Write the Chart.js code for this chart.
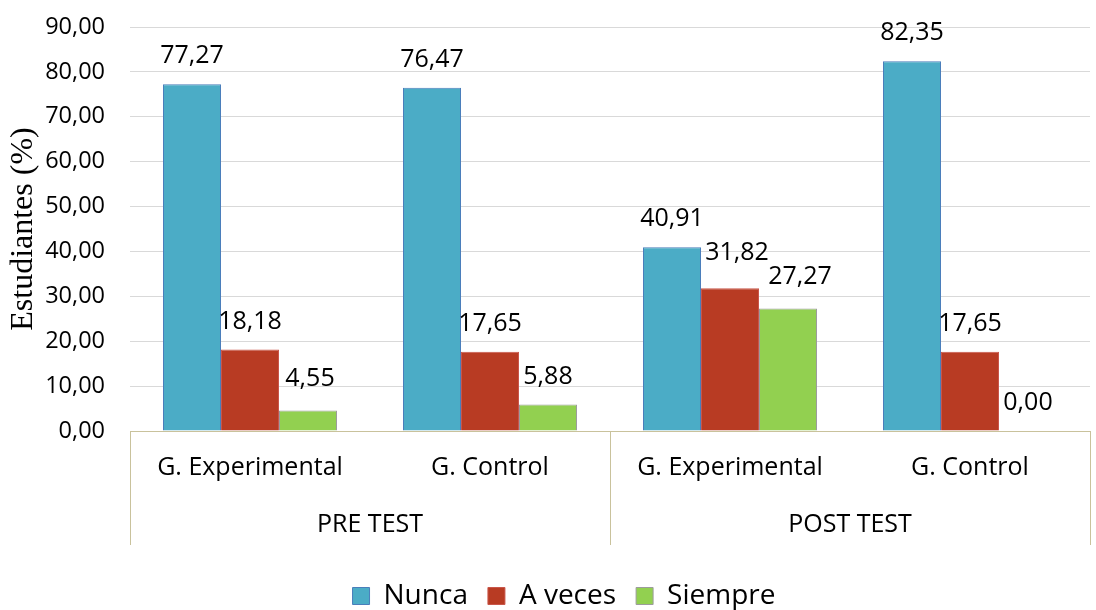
<!DOCTYPE html>
<html>
<head>
<meta charset="utf-8">
<script src="https://cdn.jsdelivr.net/npm/chart.js@4/dist/chart.umd.min.js"></script>
<style>
html,body{margin:0;padding:0;background:#fff;}
#wrap{width:1096px;height:610px;}
</style>
</head>
<body>
<div id="wrap"><canvas id="c" width="1096" height="610"></canvas></div>
<script>
const categories = ['G. Experimental', 'G. Control', 'G. Experimental', 'G. Control'];
const groups = ['PRE TEST', 'POST TEST'];
const nunca = [77.27, 76.47, 40.91, 82.35];
const aVeces = [18.18, 17.65, 31.82, 17.65];
const siempre = [4.55, 5.88, 27.27, 0.00];
const yTicks = [0, 10, 20, 30, 40, 50, 60, 70, 80, 90];

const FONT = '"Open Sans", "Noto Sans", sans-serif';
const TAN = '#C9C29C';
const fmt = v => Number(v).toFixed(2).replace('.', ',');

const labelPlugin = {
  id: 'valueLabels',
  afterDatasetsDraw(chart) {
    const ctx = chart.ctx;
    // small nudges to avoid overlapping labels (dataset:index -> [dx, dy])
    const nudge = { '1:2': [7, -7], '2:2': [12, -4], '2:0': [2, -4] };
    ctx.save();
    ctx.font = '25px ' + FONT;
    ctx.fillStyle = '#000';
    ctx.textAlign = 'center';
    ctx.textBaseline = 'middle';
    chart.data.datasets.forEach((ds, di) => {
      const meta = chart.getDatasetMeta(di);
      meta.data.forEach((el, i) => {
        const n = nudge[di + ':' + i] || [0, 0];
        ctx.fillText(fmt(ds.data[i]), el.x + n[0], el.y - 28 + n[1]);
      });
    });
    ctx.restore();
  }
};

const separatorPlugin = {
  id: 'separators',
  afterDraw(chart) {
    const x = chart.scales.x;
    const ctx = chart.ctx;
    const top = chart.chartArea.bottom;
    const bottom = 545;
    const xs = [x.getPixelForValue(-0.5), x.getPixelForValue(1.5), x.getPixelForValue(3.5)];
    ctx.save();
    ctx.strokeStyle = TAN;
    ctx.lineWidth = 1;
    xs.forEach(px => {
      const p = Math.round(px) + 0.5;
      ctx.beginPath();
      ctx.moveTo(p, top);
      ctx.lineTo(p, bottom);
      ctx.stroke();
    });
    ctx.restore();
  }
};

new Chart(document.getElementById('c'), {
  type: 'bar',
  data: {
    labels: categories,
    datasets: [
      { label: 'Nunca', data: nunca, backgroundColor: '#4BACC6', borderColor: '#4A7EBB', borderWidth: 1 },
      { label: 'A veces', data: aVeces, backgroundColor: '#B83B23', borderColor: '#C9564A', borderWidth: 1 },
      { label: 'Siempre', data: siempre, backgroundColor: '#92D050', borderColor: '#9C9C9C', borderWidth: 1 }
    ]
  },
  options: {
    responsive: false,
    animation: false,
    devicePixelRatio: 1,
    layout: { padding: { top: 27, right: 6, left: 38, bottom: -10 } },
    datasets: { bar: { categoryPercentage: 0.725, barPercentage: 1.0 } },
    plugins: {
      legend: {
        position: 'bottom',
        labels: {
          boxWidth: 17, boxHeight: 17, padding: 20,
          color: '#000',
          font: { family: FONT, size: 28 }
        }
      },
      tooltip: { enabled: false }
    },
    scales: {
      y: {
        min: 0, max: 90,
        afterBuildTicks: s => { s.ticks = yTicks.map(v => ({ value: v })); },
        afterFit: s => { s.width = 92; },
        grid: { color: '#D9D9D9', drawTicks: true, tickLength: 15, tickColor: 'rgba(0,0,0,0)' },
        border: { display: false },
        ticks: { padding: 10, color: '#000', font: { family: FONT, size: 23.5 }, callback: v => fmt(v) },
        title: { display: true, text: 'Estudiantes (%)', color: '#000',
                 font: { family: '"Liberation Serif", "DejaVu Serif", serif', size: 32 }, padding: { top: -34, bottom: 0 } }
      },
      x: {
        grid: { display: false, drawTicks: false },
        border: { display: true, color: TAN, width: 1 },
        ticks: { padding: 22, color: '#000', font: { family: FONT, size: 25 }, maxRotation: 0, autoSkip: false }
      },
      x2: {
        type: 'category',
        labels: groups,
        position: 'bottom',
        offset: true,
        grid: { display: false, drawTicks: false },
        border: { display: false },
        ticks: { padding: 5, color: '#000', font: { family: FONT, size: 25 }, maxRotation: 0, autoSkip: false },
        title: { display: true, text: ' ', font: { size: 10 }, padding: { top: 0, bottom: 5 } }
      }
    }
  },
  plugins: [labelPlugin, separatorPlugin]
});
</script>
</body>
</html>
